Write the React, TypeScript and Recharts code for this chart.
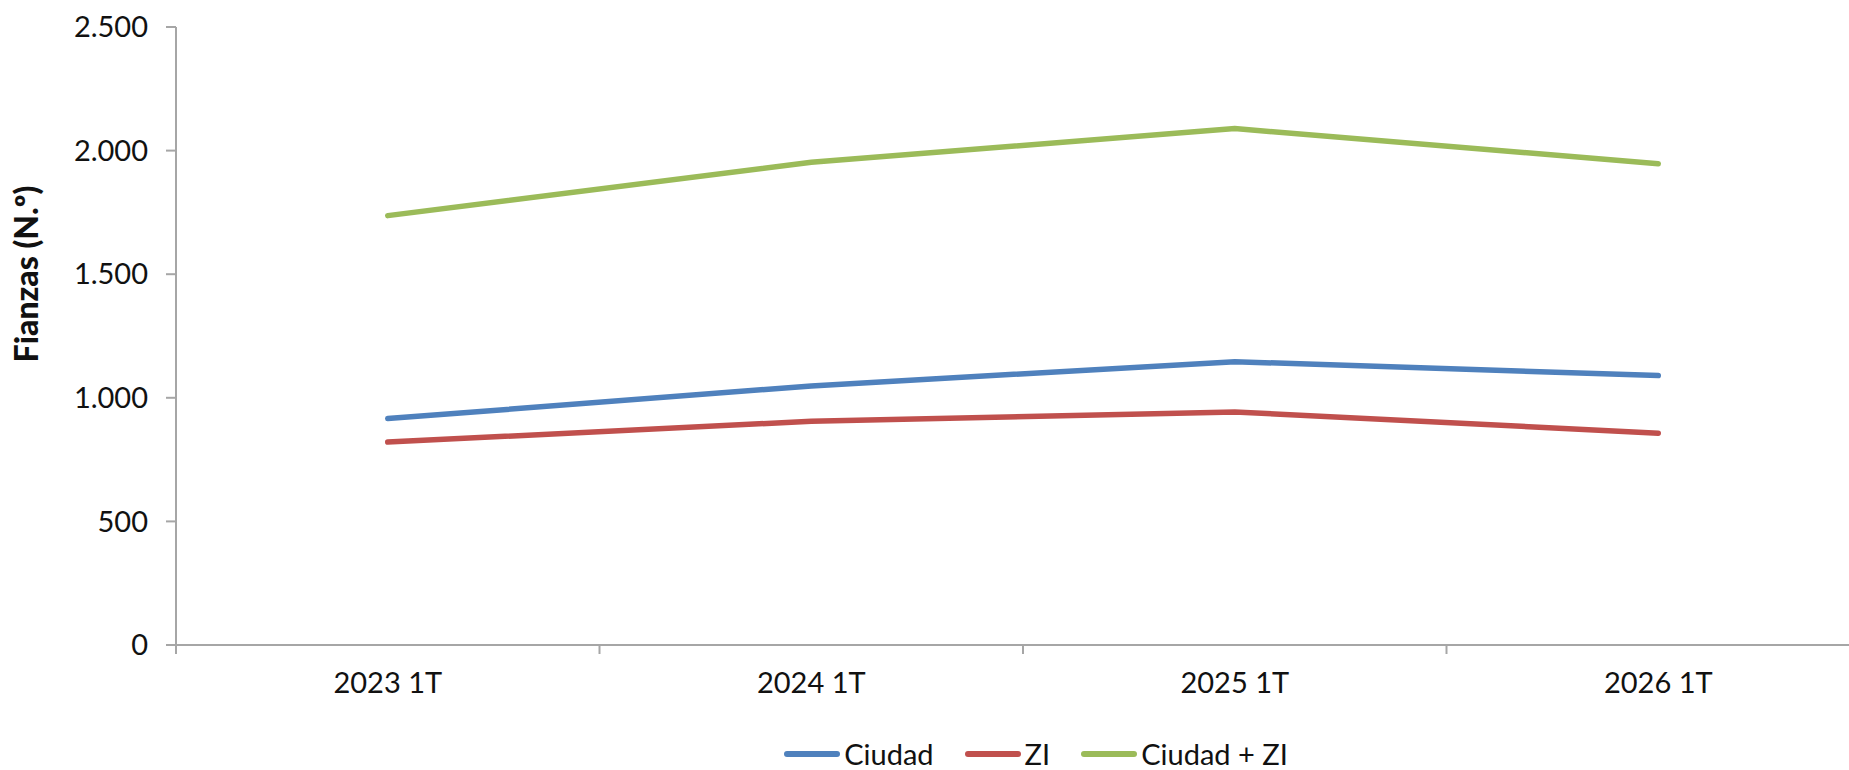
import React from 'react';
import { LineChart, Line, XAxis, YAxis, Legend, Label } from 'recharts';

// Quarterly guarantee counts (Fianzas)
const categories = ['2023 1T', '2024 1T', '2025 1T', '2026 1T'];
const ciudad = [916, 1048, 1146, 1090];
const zi = [821, 905, 943, 857];
const ciudadZi = [1737, 1953, 2089, 1947];
const yTicks = [0, 500, 1000, 1500, 2000, 2500];
const seriesNames = ['Ciudad', 'ZI', 'Ciudad + ZI'];

const data = categories.map((cat, i) => ({
  cat,
  ciudad: ciudad[i],
  zi: zi[i],
  total: ciudadZi[i],
}));

const CHART_W = 1880;
const CHART_H = 770;
const Y_W = 176;
const RIGHT = 10;
const LEGEND_H = 40;
const BAND_HALF = (CHART_W - Y_W - RIGHT) / categories.length / 2;

const AXIS = '#A6A6A6';
const TEXT = '#111111';
const FONT = 'Lato, "Noto Sans", sans-serif';
const FS = 29;

const fmt = (v: number) => String(v).replace(/\B(?=(\d{3})+(?!\d))/g, '.');

function XTick(props: any) {
  const { x, y, payload } = props;
  return (
    <g>
      <line x1={x - BAND_HALF} x2={x - BAND_HALF} y1={y} y2={y + 9} stroke={AXIS} strokeWidth={2} />
      <text x={x} y={y + 48} textAnchor="middle" fontSize={FS} fontFamily={FONT} fill={TEXT}>
        {payload.value}
      </text>
    </g>
  );
}

function renderLegend(props: any) {
  const raw = props.payload || [];
  const items = seriesNames
    .map((n) => raw.find((it: any) => it.value === n))
    .filter(Boolean);
  return (
    <div
      style={{
        display: 'flex',
        justifyContent: 'center',
        alignItems: 'center',
        boxSizing: 'border-box',
        height: LEGEND_H,
        paddingTop: 8,
        paddingLeft: 202,
        fontSize: FS,
        lineHeight: '32px',
        fontFamily: FONT,
        color: TEXT,
      }}
    >
      {items.map((it: any, i: number) => (
        <span
          key={it.value}
          style={{ display: 'flex', alignItems: 'center', marginRight: i < items.length - 1 ? 31 : 0 }}
        >
          <svg width={56} height={10}>
            <line x1={3} x2={53} y1={5} y2={5} stroke={it.color} strokeWidth={6} strokeLinecap="round" />
          </svg>
          <span style={{ marginLeft: 4 }}>{it.value}</span>
        </span>
      ))}
    </div>
  );
}

function YTitle(props: any) {
  const { viewBox } = props;
  const cx = viewBox.x + 25;
  const cy = viewBox.y + viewBox.height / 2 - 62;
  return (
    <text
      x={cx}
      y={cy}
      transform={`rotate(-90, ${cx}, ${cy})`}
      textAnchor="middle"
      dominantBaseline="central"
      fontSize={32}
      fontWeight={900}
      fontFamily={FONT}
      fill={TEXT}
    >
      Fianzas (N.º)
    </text>
  );
}

export default function App() {
  return (
    <div
      style={{
        position: 'absolute',
        left: 0,
        top: 0,
        width: 1849,
        height: 770,
        overflow: 'hidden',
        background: '#ffffff',
        fontFamily: FONT,
      }}
    >
      <LineChart
        width={CHART_W}
        height={CHART_H}
        data={data}
        margin={{ top: 27, right: RIGHT, left: 0, bottom: 0 }}
      >
        <XAxis
          dataKey="cat"
          scale="band"
          height={85}
          interval={0}
          tickSize={0}
          tickMargin={0}
          tickLine={false}
          axisLine={{ stroke: AXIS, strokeWidth: 2 }}
          tick={(p: any) => <XTick {...p} />}
        />
        <YAxis
          width={Y_W}
          domain={[0, 2500]}
          ticks={yTicks}
          interval={0}
          tickSize={10}
          tickMargin={18}
          tickLine={{ stroke: AXIS, strokeWidth: 2 }}
          axisLine={{ stroke: AXIS, strokeWidth: 2 }}
          tickFormatter={fmt}
          tick={{ fontSize: FS, fill: TEXT, fontFamily: FONT }}
        >
          <Label content={(p: any) => <YTitle {...p} />} />
        </YAxis>
        <Legend
          verticalAlign="bottom"
          height={LEGEND_H}
          wrapperStyle={{ height: LEGEND_H }}
          content={renderLegend}
        />
        <Line
          name="Ciudad"
          dataKey="ciudad"
          type="linear"
          stroke="#4F81BD"
          strokeWidth={5.5}
          strokeLinecap="round"
          dot={false}
          activeDot={false}
          isAnimationActive={false}
        />
        <Line
          name="ZI"
          dataKey="zi"
          type="linear"
          stroke="#C0504D"
          strokeWidth={5.5}
          strokeLinecap="round"
          dot={false}
          activeDot={false}
          isAnimationActive={false}
        />
        <Line
          name="Ciudad + ZI"
          dataKey="total"
          type="linear"
          stroke="#9BBB59"
          strokeWidth={5.5}
          strokeLinecap="round"
          dot={false}
          activeDot={false}
          isAnimationActive={false}
        />
      </LineChart>
    </div>
  );
}
